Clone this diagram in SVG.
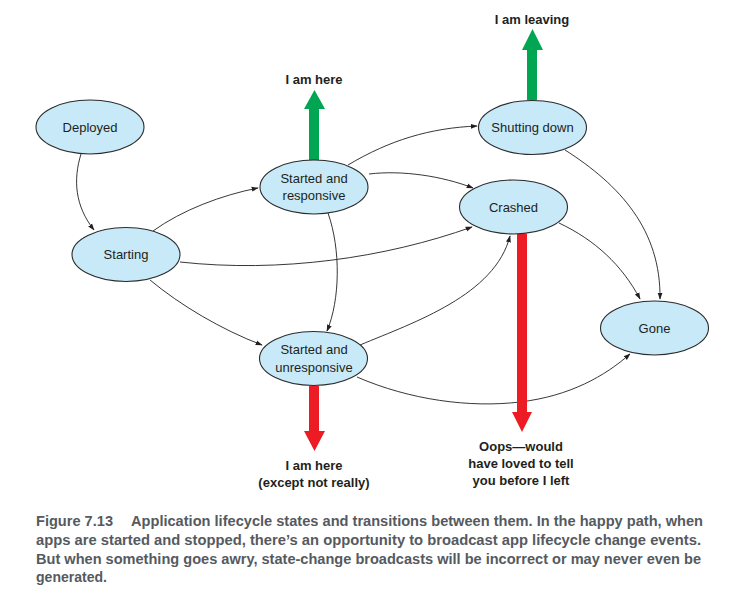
<svg xmlns="http://www.w3.org/2000/svg" width="756" height="613" viewBox="0 0 756 613">
<defs>
<style>
.node ellipse{fill:#c7e9f8;stroke:#2b2b2b;stroke-width:1.1}
.node text{font-family:"Liberation Sans",Arial,sans-serif;font-size:13px;fill:#231f20;text-anchor:middle}
.edge{fill:none;stroke:#231f20;stroke-width:0.9;marker-end:url(#ah)}
.lbl{font-family:"Liberation Sans",Arial,sans-serif;font-size:13px;font-weight:bold;fill:#231f20;text-anchor:middle}
.cap{font-family:"Liberation Sans Narrow","Liberation Sans",Arial,sans-serif;font-size:14.5px;font-weight:bold;fill:#555a5f}
.green{fill:#00a651}
.red{fill:#ed1c24}
</style>
<marker id="ah" viewBox="0 0 10 10" refX="9" refY="5" markerWidth="7" markerHeight="7" orient="auto" markerUnits="userSpaceOnUse">
<path d="M0,1.5 L10,5 L0,8.5 Z" fill="#231f20"/>
</marker>
</defs>
<rect width="756" height="613" fill="#ffffff"/>

<g id="connectors">
<path class="edge" d="M81,154 C73,180 75,206 94,230"/>
<path class="edge" d="M153,231 C182,210 222,195 258,188"/>
<path class="edge" d="M180,262 C280,273 385,258 472,227"/>
<path class="edge" d="M150,280 C180,305 222,330 262,345"/>
<path class="edge" d="M328,213 C341,250 340,300 327,331"/>
<path class="edge" d="M348,165 C390,140 430,128 477,126"/>
<path class="edge" d="M369,174 C402,170 442,176 473,188"/>
<path class="edge" d="M360,345 C415,322 495,295 510,236"/>
<path class="edge" d="M357,377 C410,400 470,408 520,402 C570,396 605,376 630,354"/>
<path class="edge" d="M565,150 C620,185 661,230 660,299"/>
<path class="edge" d="M559,223 C595,240 622,265 640,299"/>
</g>

<g id="signal-arrows">
<path class="green" d="M309,160 L309,109 L304,109 L314.5,90 L325,109 L319,109 L319,160 Z"/>
<path class="green" d="M527,100 L527,50 L522,50 L532.5,29 L543,50 L537,50 L537,100 Z"/>
<path class="red" d="M309,386 L309,431 L304,431 L314.5,451 L325,431 L319,431 L319,386 Z"/>
<path class="red" d="M517,234 L517,412 L512,412 L522,432 L532,412 L527,412 L527,234 Z"/>
</g>

<g id="deployed" class="node"><ellipse cx="90" cy="127" rx="54" ry="27"/><text x="90" y="132">Deployed</text></g>
<g id="starting" class="node"><ellipse cx="126" cy="254.5" rx="54" ry="27"/><text x="126" y="259">Starting</text></g>
<g id="started-responsive" class="node"><ellipse cx="314" cy="187" rx="54" ry="27"/><text x="314" y="183">Started and</text><text x="314" y="200">responsive</text></g>
<g id="shutting-down" class="node"><ellipse cx="532.5" cy="127.5" rx="54" ry="27"/><text x="532.5" y="132">Shutting down</text></g>
<g id="crashed" class="node"><ellipse cx="513.5" cy="207" rx="54" ry="27"/><text x="513.5" y="212">Crashed</text></g>
<g id="started-unresponsive" class="node"><ellipse cx="313.5" cy="358.5" rx="54" ry="27"/><text x="314" y="354">Started and</text><text x="314" y="372">unresponsive</text></g>
<g id="gone" class="node"><ellipse cx="654.5" cy="328" rx="54" ry="27"/><text x="654.5" y="333">Gone</text></g>

<g id="labels">
<text class="lbl" x="314" y="84">I am here</text>
<text class="lbl" x="532" y="24">I am leaving</text>
<text class="lbl" x="314" y="470">I am here</text>
<text class="lbl" x="314" y="487">(except not really)</text>
<text class="lbl" x="521" y="451">Oops—would</text>
<text class="lbl" x="521" y="468">have loved to tell</text>
<text class="lbl" x="521" y="485">you before I left</text>
</g>

<g id="caption">
<text class="cap" y="526"><tspan x="36" textLength="77" lengthAdjust="spacingAndGlyphs">Figure 7.13</tspan><tspan x="131" textLength="572" lengthAdjust="spacingAndGlyphs">Application lifecycle states and transitions between them. In the happy path, when</tspan></text>
<text class="cap" x="36" y="545" textLength="665" lengthAdjust="spacingAndGlyphs">apps are started and stopped, there’s an opportunity to broadcast app lifecycle change events.</text>
<text class="cap" x="36" y="564" textLength="665" lengthAdjust="spacingAndGlyphs">But when something goes awry, state-change broadcasts will be incorrect or may never even be</text>
<text class="cap" x="36" y="582" textLength="71" lengthAdjust="spacingAndGlyphs">generated.</text>
</g>
</svg>
